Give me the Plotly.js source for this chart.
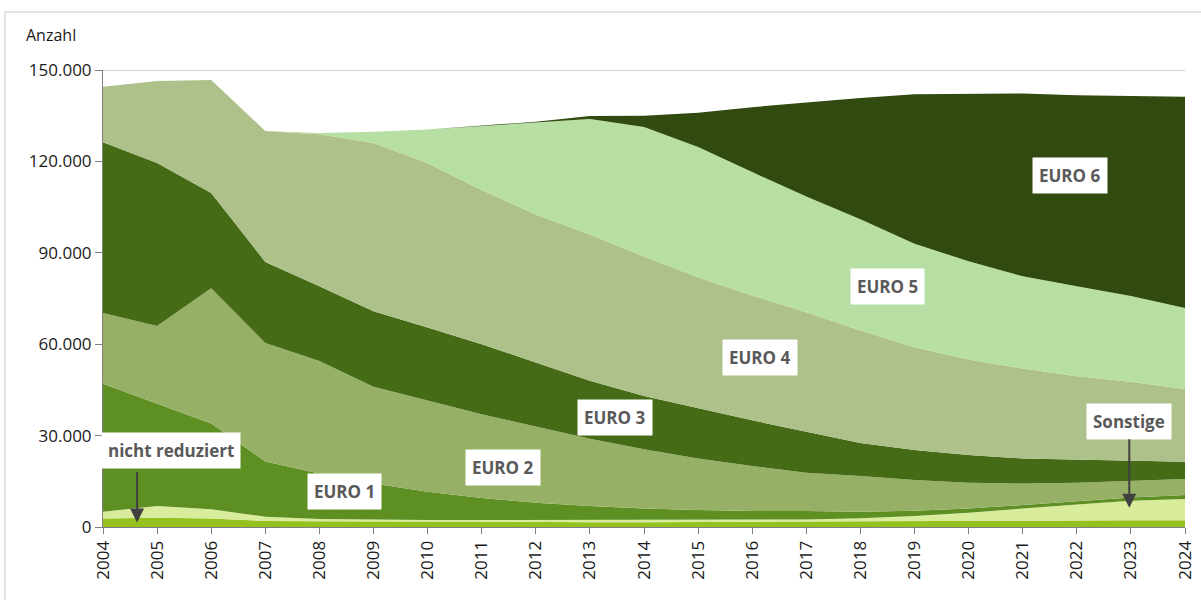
<!DOCTYPE html>
<html>
<head>
<meta charset="utf-8">
<script src="https://cdn.plot.ly/plotly-3.0.1.min.js"></script>
<style>html,body{margin:0;padding:0;background:#fff;}#chart{width:1201px;height:600px;}</style>
</head>
<body>
<div id="chart"></div>
<script>
const years = [2004,2005,2006,2007,2008,2009,2010,2011,2012,2013,2014,2015,2016,2017,2018,2019,2020,2021,2022,2023,2024];
const nichtReduziert = [2800,3000,2800,2000,1900,1800,1700,1600,1600,1600,1600,1600,1700,1800,1900,2000,2000,2100,2100,2200,2200];
const sonstige = [2200,3900,3000,1400,700,600,600,700,700,700,700,700,700,700,950,1600,2700,4000,5300,6400,7000];
const euro1 = [42000,33600,28200,18100,15000,11900,9300,7200,5700,4600,3800,3300,2850,2750,2150,1750,1400,1100,1100,1100,1300];
const euro2 = [23200,25500,44400,38900,36900,31700,29900,27500,25000,22100,19400,16900,14750,12550,11700,10050,8400,7100,6000,5500,5250];
const euro3 = [56100,53500,31200,26600,24500,24800,24000,23000,21000,19000,17500,16500,15000,13500,10900,9900,9100,8200,7700,6600,5650];
const euro4 = [18200,26900,37100,43000,49900,55200,54000,50600,48600,48000,45800,43000,41000,39200,36900,33700,31400,29500,27300,25900,23900];
const euro5 = [0,0,0,0,400,3700,11000,21100,30100,37900,42500,42700,40500,38000,36500,34000,32200,30300,29500,28100,26600];
const euro6 = [0,0,0,0,0,0,0,100,300,1000,3700,11300,21300,30800,39800,49000,54900,60000,62700,65700,69300];

const seriesNames = ['nicht reduziert','Sonstige','EURO 1','EURO 2','EURO 3','EURO 4','EURO 5','EURO 6'];
const seriesData = [nichtReduziert, sonstige, euro1, euro2, euro3, euro4, euro5, euro6];
const seriesColors = ['#95c11f','#d9ec9b','#5e8f22','#96b066','#466b17','#afc18a','#b7dfa3','#304a10'];

const yTickVals = [0,30000,60000,90000,120000,150000];
const yTickText = ['0','30.000','60.000','90.000','120.000','150.000'];

const traces = seriesData.map((d,i)=>({
  x: years, y: d, name: seriesNames[i], type:'scatter', mode:'lines',
  stackgroup:'one', line:{width:0, color:seriesColors[i]}, fillcolor:seriesColors[i],
  hoverinfo:'skip'
}));

const labelFont = {family:'"Open Sans", "Noto Sans", sans-serif', size:17, color:'#595959'};
function lab(text, x, y){
  return {x:x, y:y, xref:'x', yref:'y', text:'<b>'+text+'</b>', showarrow:false,
    bgcolor:'#ffffff', borderpad:6, font:labelFont};
}
function arrow(x, y, len){
  return {x:x, y:y, xref:'x', yref:'y', text:'', showarrow:true, ax:0, ay:-len,
    arrowhead:2, arrowsize:1.4, arrowwidth:2, arrowcolor:'#404040'};
}

const annotations = [
  lab('EURO 6', 2021.87, 115500),
  lab('EURO 5', 2018.51, 78800),
  lab('EURO 4', 2016.14, 55800),
  lab('EURO 3', 2013.46, 36100),
  lab('EURO 2', 2011.39, 19400),
  lab('EURO 1', 2008.47, 11500),
  lab('nicht reduziert', 2005.26, 25000),
  lab('Sonstige', 2022.97, 34500),
  arrow(2004.63, 1500, 52),
  arrow(2022.97, 6300, 70),
  {xref:'paper', yref:'paper', x:-0.073, y:1.077, xanchor:'left', yanchor:'middle',
   text:'Anzahl', showarrow:false, font:{family:'"Open Sans", "Noto Sans", sans-serif', size:16, color:'#1a1a1a'}}
];

const layout = {
  width:1201, height:600,
  margin:{l:103, r:16, t:70, b:73},
  paper_bgcolor:'#ffffff', plot_bgcolor:'#ffffff',
  showlegend:false,
  font:{family:'"Open Sans", "Noto Sans", sans-serif', color:'#1a1a1a'},
  xaxis:{range:[2004,2024], tickmode:'array', tickvals:years, ticktext:years.map(String),
    tickangle:-90, showgrid:false, zeroline:false, showline:true, linecolor:'#7f7f7f', linewidth:1,
    ticks:'outside', ticklen:6, tickcolor:'#7f7f7f', tickfont:{size:17, color:'#1a1a1a'}, fixedrange:true},
  yaxis:{range:[0,150000], tickmode:'array', tickvals:yTickVals, ticktext:yTickText,
    showgrid:false, zeroline:false, showline:true, linecolor:'#7f7f7f', linewidth:1,
    ticks:'outside', ticklen:7, tickcolor:'#7f7f7f', tickfont:{size:17, color:'#1a1a1a'}, fixedrange:true},
  annotations: annotations,
  shapes:[
    {type:'line', xref:'x', yref:'y', x0:2004, x1:2024, y0:150000, y1:150000, line:{color:'#a6a6a6', width:1}},
    {type:'rect', xref:'paper', yref:'paper', x0:-0.0906, x1:1.02, y0:-0.17, y1:1.127, line:{color:'#c8c8c8', width:1}, layer:'below'}
  ]
};

Plotly.newPlot('chart', traces, layout, {displayModeBar:false, staticPlot:true});
</script>
</body>
</html>
